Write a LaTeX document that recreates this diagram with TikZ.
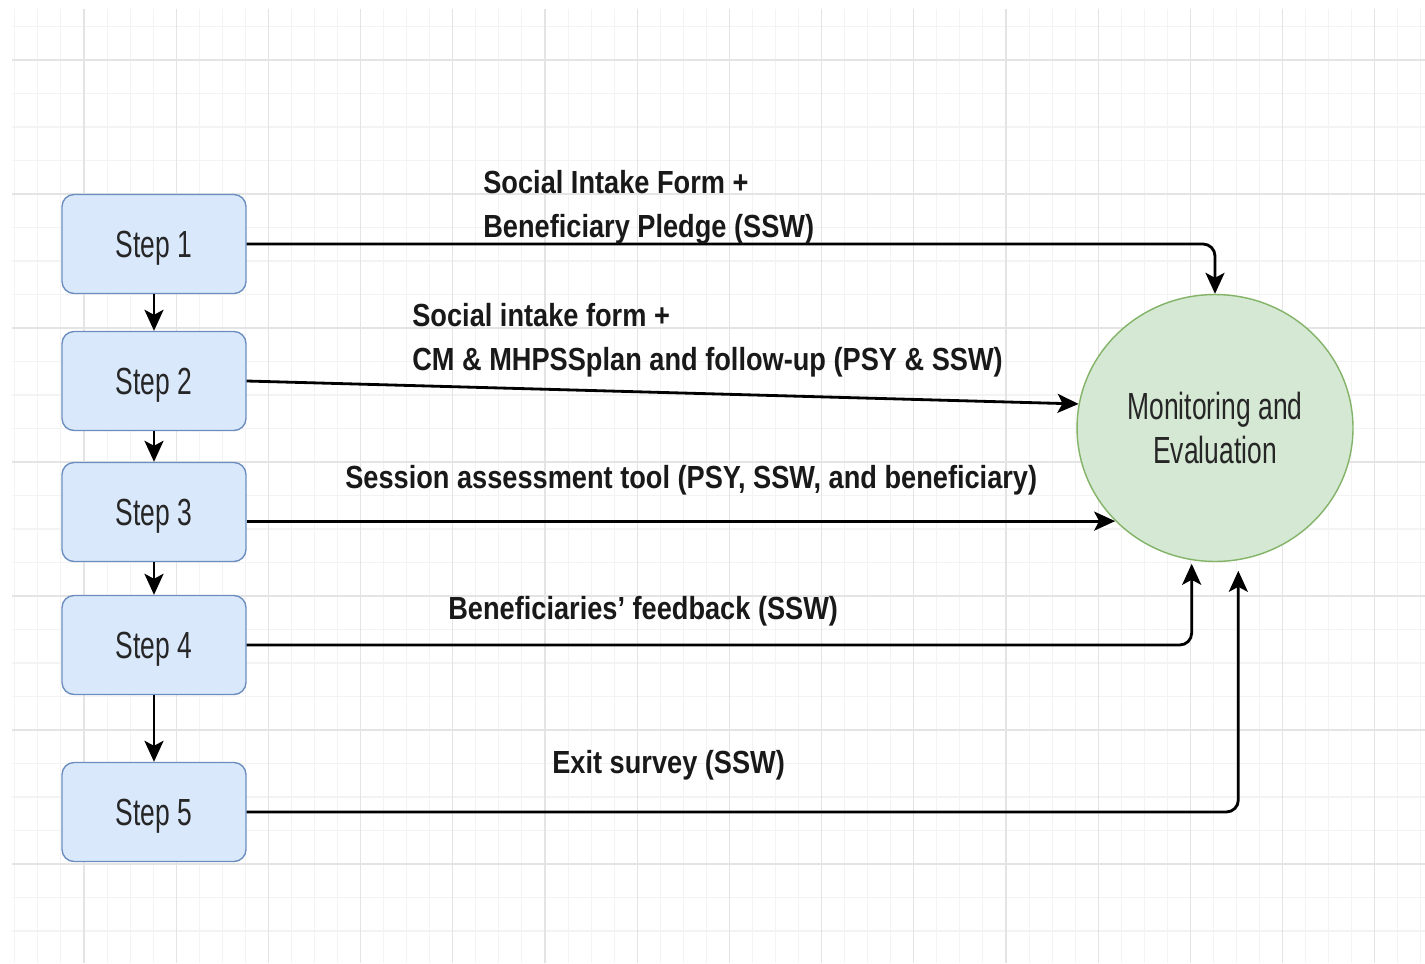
\documentclass[tikz,border=0pt]{standalone}
\usepackage{fontspec}
\setmainfont{Liberation Sans}[FakeStretch=0.7]
\newfontfamily\labelfont{Liberation Sans}[FakeStretch=0.85]
\usetikzlibrary{shapes.geometric,arrows.meta}

\definecolor{stepfill}{HTML}{DAE8FC}
\definecolor{stepline}{HTML}{6C8EBF}
\definecolor{evalfill}{HTML}{D5E8D4}
\definecolor{evalline}{HTML}{82B366}
\definecolor{gridmajor}{HTML}{E4E4E4}
\definecolor{gridminor}{HTML}{F3F3F3}

\tikzset{
  stepbox/.style={
    draw=stepline,
    fill=stepfill,
    line width=0.8pt,
    rounded corners=0.24cm,
    minimum width=3.68cm,
    minimum height=1.98cm,
    text depth=0pt,
    text=black!85,
    font=\fontsize{21.5}{26}\selectfont
  },
  evalnode/.style={
    ellipse,
    draw=evalline,
    fill=evalfill,
    line width=0.8pt,
    minimum width=5.52cm,
    minimum height=5.34cm,
    align=center,
    text=black!85,
    font=\fontsize{21.5}{25.6}\selectfont
  },
  conn/.style={
    line width=1.6pt,
    rounded corners=0.24cm,
    -{Stealth[length=0.42cm,width=0.38cm,inset=0.1cm]}
  },
  lbl/.style={
    anchor=base west,
    inner sep=0pt,
    align=left,
    text=black!90,
    font=\labelfont\bfseries\fontsize{18.2}{24.5}\selectfont
  }
}

\begin{document}
\begin{tikzpicture}[x=0.02cm,y=-0.02cm]
    \fill[white] (0,0) rectangle (1425,963);
    \useasboundingbox (0,0) rectangle (1425,963);

    % background grid
    \foreach \i [evaluate=\i as \gx using 14.85+23.05*\i] in {0,...,61}
        \draw[gridminor, line width=0.6pt] (\gx,9) -- (\gx,963);
    \foreach \j [evaluate=\j as \gy using 26.5+33.5*\j] in {0,...,27}
        \draw[gridminor, line width=0.6pt] (12,\gy) -- (1425,\gy);
    \foreach \i [evaluate=\i as \gx using 84+92.2*\i] in {0,...,14}
        \draw[gridmajor, line width=0.7pt] (\gx,9) -- (\gx,963);
    \foreach \j [evaluate=\j as \gy using 60+134*\j] in {0,...,6}
        \draw[gridmajor, line width=0.7pt] (12,\gy) -- (1425,\gy);

    % steps
    \node[stepbox] (s1) at (154,244) {Step 1};
    \node[stepbox] (s2) at (154,381) {Step 2};
    \node[stepbox] (s3) at (154,512) {Step 3};
    \node[stepbox] (s4) at (154,645) {Step 4};
    \node[stepbox] (s5) at (154,812) {Step 5};

    \node[evalnode] (me) at (1215,428) {Monitoring and\\Evaluation};

    \draw[conn] (s1) -- (s2);
    \draw[conn] (s2) -- (s3);
    \draw[conn] (s3) -- (s4);
    \draw[conn] (s4) -- (s5);

    % tools feeding M&E
    \draw[conn] (s1.east) -| (me.north);
    \draw[conn] (s2.east) -- (me.170);
    \draw[conn] (s3.east |- me.223) -- (me.223);
    \draw[conn, shorten >=2pt] (s4.east) -| (me.260);
    \draw[conn, shorten >=6pt] (s5.east) -| (me.280);

    \node[lbl] (l1) at (483,237) {Social Intake Form +\\Beneficiary Pledge (SSW)};
    \node[lbl] (l2) at (412,370) {Social intake form +\\CM \& MHPSSplan and follow-up (PSY \& SSW)};
    \node[lbl] (l3) at (345,488) {Session assessment tool (PSY, SSW, and beneficiary)};
    \node[lbl] (l4) at (448,619) {Beneficiaries’ feedback (SSW)};
    \node[lbl] (l5) at (552,773) {Exit survey (SSW)};
\end{tikzpicture}
\end{document}
